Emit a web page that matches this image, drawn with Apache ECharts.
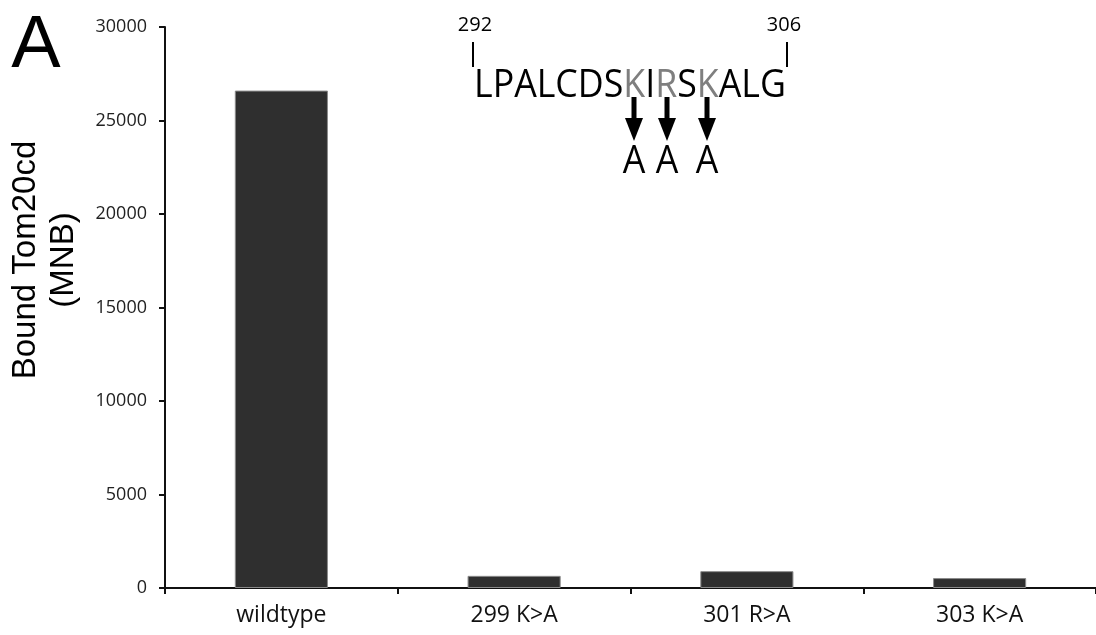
<!DOCTYPE html>
<html>
<head>
<meta charset="utf-8">
<script src="https://cdn.jsdelivr.net/npm/echarts@6/dist/echarts.min.js"></script>
<style>
  html, body { margin: 0; padding: 0; background: #fff; }
  #chart { width: 1096px; height: 635px; }
</style>
</head>
<body>
<div id="chart"></div>
<script>
// Tom20 binding of the wildtype peptide and its single-residue alanine mutants
const categories = ['wildtype', '299 K>A', '301 R>A', '303 K>A'];
const boundTom20 = [26600, 650, 900, 530];
const yTicks = { min: 0, max: 30000, interval: 5000 };

// Peptide sequence 292-306; mutated residues drawn in gray
const seqStart = '292';
const seqEnd = '306';
const seqParts = [
  ['LPALCDS', 'n'], ['K', 'g'], ['I', 'n'], ['R', 'g'], ['S', 'n'], ['K', 'g'], ['ALG', 'n']
];

const chart = echarts.init(document.getElementById('chart'));

const calFont = '"Open Sans", sans-serif';
const armFont = '"Liberation Sans", Arial, sans-serif';
const seqScale = 0.94;

// arrows from the mutated residues down to the substituted alanines
const arrowX = [634, 667, 707];
const arrowEls = [];
arrowX.forEach(function (x) {
  arrowEls.push({
    type: 'rect', shape: { x: x - 2.5, y: 97, width: 5, height: 23 },
    style: { fill: '#000' }
  });
  arrowEls.push({
    type: 'polygon', shape: { points: [[x - 9, 118], [x + 9, 118], [x, 141]] },
    style: { fill: '#000' }
  });
  arrowEls.push({
    type: 'text', x: x, y: 162, scaleX: seqScale,
    style: { text: 'A', font: '38px ' + calFont, fill: '#000', align: 'center', verticalAlign: 'middle' }
  });
});

chart.setOption({
  animation: false,
  backgroundColor: '#ffffff',
  grid: { left: 165, top: 27, width: 938, height: 561, containLabel: false },
  xAxis: {
    type: 'category',
    data: categories,
    axisLine: { lineStyle: { color: '#111', width: 2 } },
    axisTick: { show: true, alignWithLabel: false, length: 6, lineStyle: { color: '#111', width: 2 } },
    axisLabel: { color: '#111', fontFamily: calFont, fontSize: 23, margin: 16 },
    splitLine: { show: false }
  },
  yAxis: {
    type: 'value',
    min: yTicks.min, max: yTicks.max, interval: yTicks.interval,
    axisLine: { show: true, lineStyle: { color: '#111', width: 2 } },
    axisTick: { show: true, inside: false, length: 6, lineStyle: { color: '#111', width: 2 } },
    axisLabel: {
      color: '#222', fontFamily: calFont, fontSize: 18, margin: 18,
      formatter: function (v) { return String(v); }
    },
    splitLine: { show: false }
  },
  series: [{
    type: 'bar',
    data: boundTom20,
    barWidth: '40%',
    itemStyle: { color: '#2f2f2f', borderColor: '#8a8a8a', borderWidth: 1 }
  }],
  graphic: [
    // panel letter
    {
      type: 'text', x: 36, y: 47,
      style: { text: 'A', font: '74px ' + armFont, fill: '#000', align: 'center', verticalAlign: 'middle' }
    },
    // y-axis title
    {
      type: 'text', x: 45, y: 260, rotation: Math.PI / 2,
      style: {
        text: 'Bound Tom20cd\n(MNB)', font: '33px ' + armFont, lineHeight: 38,
        fill: '#000', align: 'center', verticalAlign: 'middle'
      }
    },
    // residue numbers and markers
    {
      type: 'text', x: 475, y: 25,
      style: { text: seqStart, font: '20px ' + calFont, fill: '#000', align: 'center', verticalAlign: 'middle' }
    },
    {
      type: 'text', x: 784, y: 25,
      style: { text: seqEnd, font: '20px ' + calFont, fill: '#000', align: 'center', verticalAlign: 'middle' }
    },
    { type: 'rect', shape: { x: 472, y: 42, width: 2, height: 25 }, style: { fill: '#000' } },
    { type: 'rect', shape: { x: 786, y: 42, width: 2, height: 25 }, style: { fill: '#000' } },
    // sequence
    {
      type: 'text', x: 474, y: 86, scaleX: seqScale,
      style: {
        text: seqParts.map(function (p) { return '{' + p[1] + '|' + p[0] + '}'; }).join(''),
        font: '38px ' + calFont, align: 'left', verticalAlign: 'middle',
        rich: {
          n: { fill: '#000', font: '38px ' + calFont },
          g: { fill: '#7f7f7f', font: '38px ' + calFont }
        }
      }
    }
  ].concat(arrowEls)
});
</script>
</body>
</html>
